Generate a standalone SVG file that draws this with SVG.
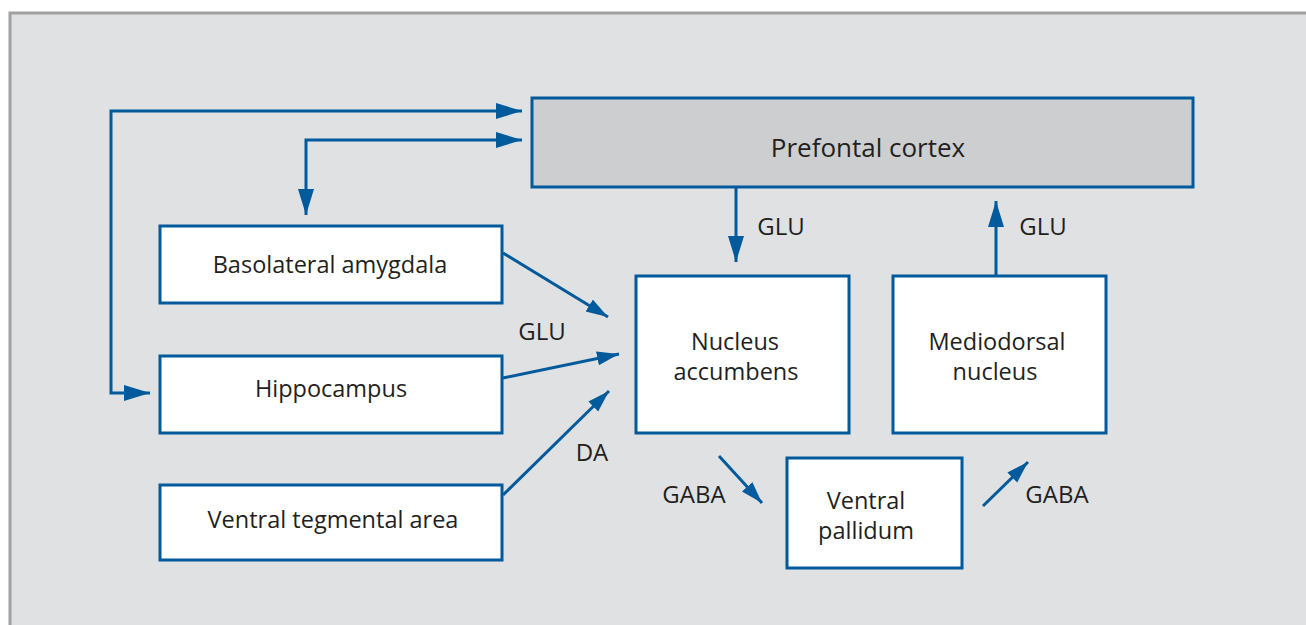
<svg xmlns="http://www.w3.org/2000/svg" width="1306" height="625" viewBox="0 0 1306 625">
<defs>
<style>
.box{fill:#ffffff;stroke:#005a9c;stroke-width:3}
.pfc{fill:#cdcecf;stroke:#005a9c;stroke-width:3}
.lbl{font-family:"Open Sans","Noto Sans",sans-serif;font-size:23.5px;fill:#231f20;text-anchor:middle}
.big{font-size:26px}
.sm{font-size:24px}
.con{fill:none;stroke:#005a9c;stroke-width:3}
</style>
<marker id="ah" markerUnits="userSpaceOnUse" markerWidth="28" markerHeight="18" refX="26" refY="8" orient="auto-start-reverse">
<path d="M0,0 L26,8 L0,16 Z" fill="#005a9c"/>
</marker>
<marker id="ahs" markerUnits="userSpaceOnUse" markerWidth="24" markerHeight="16" refX="22" refY="7" orient="auto">
<path d="M0,0 L22,7 L0,14 Z" fill="#005a9c"/>
</marker>
</defs>
<rect x="10" y="13" width="1310" height="630" fill="#e0e1e3" stroke="#a0a0a0" stroke-width="3"/>

<g id="connectors">
<path class="con" d="M150,393 H111 V111 H522" marker-start="url(#ah)" marker-end="url(#ah)"/>
<path class="con" d="M306,215 V140 H522" marker-start="url(#ah)" marker-end="url(#ah)"/>
<path class="con" d="M736,187 V262" marker-end="url(#ah)"/>
<path class="con" d="M996,275 V201" marker-end="url(#ah)"/>
<path class="con" d="M503,253 L608,317" marker-end="url(#ahs)"/>
<path class="con" d="M503,378 L619,354" marker-end="url(#ahs)"/>
<path class="con" d="M503,495 L609,391" marker-end="url(#ahs)"/>
<path class="con" d="M719,456 L762,503" marker-end="url(#ahs)"/>
<path class="con" d="M983,506 L1028,462" marker-end="url(#ahs)"/>
<text class="lbl sm" x="781" y="235">GLU</text>
<text class="lbl sm" x="1043" y="235">GLU</text>
<text class="lbl sm" x="542" y="340">GLU</text>
<text class="lbl sm" x="592" y="461">DA</text>
<text class="lbl sm" x="694" y="503">GABA</text>
<text class="lbl sm" x="1057" y="503">GABA</text>
</g>

<g id="pfc"><rect class="pfc" x="532" y="98" width="661" height="89"/><text class="lbl big" x="868" y="157">Prefontal cortex</text></g>
<g id="bla"><rect class="box" x="160" y="226" width="342" height="77"/><text class="lbl" x="330" y="273">Basolateral amygdala</text></g>
<g id="hippo"><rect class="box" x="160" y="356" width="342" height="77"/><text class="lbl" x="331" y="397">Hippocampus</text></g>
<g id="vta"><rect class="box" x="160" y="485" width="342" height="75"/><text class="lbl" x="333" y="528">Ventral tegmental area</text></g>
<g id="nac"><rect class="box" x="636" y="276" width="213" height="157"/><text class="lbl" x="735" y="350">Nucleus</text><text class="lbl" x="736" y="380">accumbens</text></g>
<g id="md"><rect class="box" x="893" y="276" width="213" height="157"/><text class="lbl" x="997" y="350">Mediodorsal</text><text class="lbl" x="995" y="380">nucleus</text></g>
<g id="vp"><rect class="box" x="787" y="458" width="175" height="110"/><text class="lbl" x="866" y="509">Ventral</text><text class="lbl" x="866" y="539">pallidum</text></g>
</svg>
